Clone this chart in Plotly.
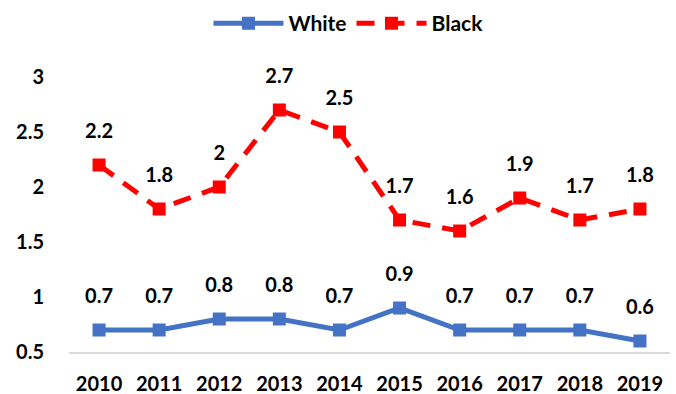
import plotly.graph_objects as go

years = ["2010", "2011", "2012", "2013", "2014", "2015", "2016", "2017", "2018", "2019"]
white = [0.7, 0.7, 0.8, 0.8, 0.7, 0.9, 0.7, 0.7, 0.7, 0.6]
black = [2.2, 1.8, 2.0, 2.7, 2.5, 1.7, 1.6, 1.9, 1.7, 1.8]
y_ticks = [0.5, 1, 1.5, 2, 2.5, 3]
y_tick_text = ["0.5", "1", "1.5", "2", "2.5", "3"]

FONT = "Lato"
BLUE = "#4472C4"
RED = "#FF0000"

fig = go.Figure()
fig.add_trace(go.Scatter(
    x=years, y=white, name="White", mode="lines+markers",
    line=dict(color=BLUE, width=5),
    marker=dict(symbol="square", size=13, color=BLUE),
))
fig.add_trace(go.Scatter(
    x=years, y=black, name="Black", mode="lines+markers",
    line=dict(color=RED, width=5, dash="18px,12px"),
    marker=dict(symbol="square", size=13, color=RED),
))

# data labels: text placed above invisible spacer markers at each point
for series in (white, black):
    fig.add_trace(go.Scatter(
        x=years, y=series, mode="markers+text", showlegend=False, hoverinfo="skip",
        marker=dict(size=33, opacity=0, color="white"),
        text=["<b>%g</b>" % v for v in series],
        textposition="top center",
        textfont=dict(family=FONT, size=20, color="#000000"),
        cliponaxis=False,
    ))

fig.update_layout(
    width=676, height=394,
    margin=dict(l=69, r=6, t=77, b=42),
    paper_bgcolor="white", plot_bgcolor="white",
    font=dict(family=FONT, size=20, color="#000000"),
    showlegend=True,
    legend=dict(orientation="h", x=0.465, xanchor="center", y=0.94, yanchor="middle",
                yref="container", font=dict(family=FONT, size=21, weight="bold"),
                itemwidth=70),
    xaxis=dict(type="category", showgrid=False, showline=True, linecolor="#D9D9D9",
               linewidth=1.5, ticks="", tickfont=dict(family=FONT, size=20, weight="bold"),
               ticklabelstandoff=13, range=[-0.5, 9.5], automargin=False),
    yaxis=dict(range=[0.5, 3], tickvals=y_ticks, ticktext=y_tick_text, showgrid=False,
               zeroline=False, showline=False, ticks="", automargin=False,
               tickfont=dict(family=FONT, size=20, weight="bold"), ticklabelstandoff=24),
)

fig.write_html("out.html")
